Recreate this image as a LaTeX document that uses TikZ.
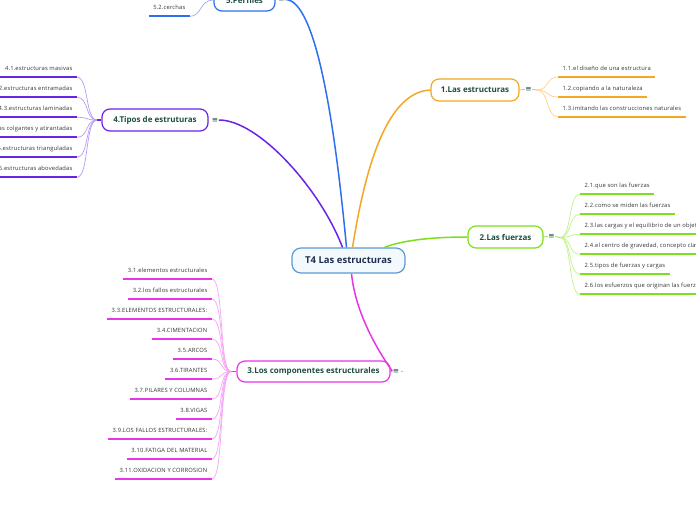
\documentclass[tikz,border=0pt]{standalone}
\usepackage{fontspec}
\setmainfont{Open Sans}
\newfontfamily\leaffont[LetterSpace=3]{Open Sans}
\newfontfamily\symf{DejaVu Sans}
\definecolor{oThick}{HTML}{F5A623}
\definecolor{oThin}{HTML}{FFD28A}
\definecolor{gThick}{HTML}{7CE01A}
\definecolor{gThin}{HTML}{C2F28C}
\definecolor{mThick}{HTML}{E835E8}
\definecolor{mThin}{HTML}{F5A6F5}
\definecolor{pThick}{HTML}{6A24E8}
\definecolor{pThin}{HTML}{B99CF5}
\definecolor{bThick}{HTML}{2F6FEF}
\definecolor{bThin}{HTML}{8FB2F7}
\definecolor{cBorder}{HTML}{5B9BD5}
\definecolor{cFill}{HTML}{F4F9FE}
\definecolor{boxText}{HTML}{1D4F3F}
\definecolor{mainText}{HTML}{1E2F4F}
\definecolor{leafText}{HTML}{333333}
\begin{document}
\begin{tikzpicture}[x=1pt,y=-1pt,
  topic/.style={draw=#1, fill=white, line width=1.2pt, rounded corners=8pt,
    text=boxText, font=\fontsize{8}{9}\selectfont\bfseries, inner sep=0pt, minimum height=22pt},
  centralbox/.style={draw=cBorder, fill=cFill, line width=1.2pt, rounded corners=9pt,
    text=mainText, font=\fontsize{9.5}{11}\selectfont\bfseries, inner sep=0pt,
    minimum width=113pt, minimum height=25pt},
  leaf/.style={font=\leaffont\fontsize{5.8}{6}\selectfont, text=leafText, inner xsep=4.5pt, inner ysep=5.5pt,
    text height=4pt, text depth=1pt},
  rleaf/.style={leaf, anchor=south west},
  lleaf/.style={leaf, anchor=south east},
  menu/.style={text=boxText, font=\symf\fontsize{7.5}{8}\selectfont, inner sep=0.5pt},
  uline/.style={draw=#1, line width=2pt},
  twig/.style={draw=#1, line width=0.7pt},
  branch/.style={draw=#1, line width=1.5pt},
]
\useasboundingbox (0,0) rectangle (696,520);
\fill[white] (0,0) rectangle (696,520);
\clip (0,0) rectangle (696,520);

% central
\node[centralbox] (c) at (348.5,260.5) {T4 Las estructuras};

% topics
\node[topic=oThick, minimum width=88pt] (b1) at (475,90) {1.Las estructuras};
\node[menu] (e1) at (528.5,89.5) {≡};
\coordinate (j1) at (537,90);

\node[topic=gThick, minimum width=75pt] (b2) at (505.5,237) {2.Las fuerzas};
\node[menu] (e2) at (551.5,236.5) {≡};
\coordinate (j2) at (560,237.5);

\node[topic=mThick, minimum width=153pt, minimum height=21pt] (b3) at (313.5,371.5) {3.Los componentes estructurales};
\node[menu] (e3) at (396,371) {≡};
\coordinate (j3) at (231,371.5);

\node[topic=pThick, minimum width=106pt] (b4) at (155,120) {4.Tipos de estruturas};
\node[menu] (e4) at (215,120) {≡};
\coordinate (j4) at (97,120);

\node[topic=bThick, minimum width=61pt] (b5) at (244.5,0) {5.Perfiles};
\node[menu] (e5) at (281.5,-0.5) {≡};

% main branches
\draw[branch=oThick] ([xshift=4pt]c.north) .. controls +(12,-75) and +(-45,2) .. (b1.west);
\draw[branch=gThick] ([xshift=36pt]c.north) .. controls +(20,-8) and +(-30,0) .. (b2.west);
\draw[branch=mThick] ([xshift=3pt]c.south) .. controls +(4,40) and +(-14,-20) .. (e3.west);
\draw[branch=pThick] (e4.east) .. controls +(40,0) and +(-22,-58) .. ([xshift=-6pt]c.north);
\draw[branch=bThick] (e5.east) .. controls +(30,0) and +(-12,-128) .. ([xshift=-2pt]c.north);

% stubs
\draw[twig=oThick] (b1.east) -- (e1.west) (e1.east) -- (j1);
\draw[twig=gThick] (b2.east) -- (e2.west) (e2.east) -- (j2);
\draw[twig=mThick] (b3.east) -- (e3.west);
\fill[mThick] (402,371.5) circle (0.6pt);
\draw[line width=1.5pt, draw=mThick] (b3.west) -- (j3);
\draw[line width=1.5pt, draw=pThick] (b4.west) -- (j4);

% branch 1 leaves
\node[rleaf] (n11) at (558,77) {1.1.el diseño de una estructura};
\node[rleaf] (n12) at (558,97) {1.2.copiando a la naturaleza};
\node[rleaf] (n13) at (558,117) {1.3.imitando las construcciones naturales};
\foreach \n in {n11,n12,n13}{
  \draw[uline=oThick] (\n.south west) -- (\n.south east);
  \draw[twig=oThin] (j1) .. controls +(12,0) and +(-12,0) .. (\n.south west);
}

% branch 2 leaves
\node[rleaf] (n21) at (580,194.3) {2.1.que son las fuerzas};
\node[rleaf] (n22) at (580,214.3) {2.2.como se miden las fuerzas};
\node[rleaf] (n23) at (580,234.3) {2.3.las cargas y el equilibrio de un objeto};
\node[rleaf] (n24) at (580,254.3) {2.4.el centro de gravedad, concepto clave};
\node[rleaf] (n25) at (580,274.3) {2.5.tipos de fuerzas y cargas};
\node[rleaf] (n26) at (580,294.3) {2.6.los esfuerzos que originan las fuerzas};
\foreach \n in {n21,n22,n23,n24,n25,n26}{
  \draw[uline=gThick] (\n.south west) -- (\n.south east);
  \draw[twig=gThin] (j2) .. controls +(12,0) and +(-12,0) .. (\n.south west);
}

% branch 3 leaves
\node[lleaf] (n31) at (212,279) {3.1.elementos estructurales};
\node[lleaf] (n32) at (212,299) {3.2.los fallos estructurales};
\node[lleaf] (n33) at (212,319) {3.3.ELEMENTOS ESTRUCTURALES:};
\node[lleaf] (n34) at (212,339) {3.4.CIMENTACION};
\node[lleaf] (n35) at (212,359) {3.5.ARCOS};
\node[lleaf] (n36) at (212,379) {3.6.TIRANTES};
\node[lleaf] (n37) at (212,399) {3.7.PILARES Y COLUMNAS};
\node[lleaf] (n38) at (212,419) {3.8.VIGAS};
\node[lleaf] (n39) at (212,439) {3.9.LOS FALLOS ESTRUCTURALES:};
\node[lleaf] (n310) at (212,459) {3.10.FATIGA DEL MATERIAL};
\node[lleaf] (n311) at (212,479) {3.11.OXIDACION Y CORROSION};
\foreach \n in {n31,n32,n33,n34,n35,n36,n37,n38,n39,n310,n311}{
  \draw[uline=mThick] (\n.south west) -- (\n.south east);
  \draw[twig=mThin] (j3) .. controls +(-12,0) and +(12,0) .. (\n.south east);
}

% branch 4 leaves
\node[lleaf] (n41) at (77,77.3) {4.1.estructuras masivas};
\node[lleaf] (n42) at (77,97.3) {4.2.estructuras entramadas};
\node[lleaf] (n43) at (77,117.3) {4.3.estructuras laminadas};
\node[lleaf] (n44) at (77,137.3) {4.4.estructuras colgantes y atirantadas};
\node[lleaf] (n45) at (77,157.3) {4.5.estructuras trianguladas};
\node[lleaf] (n46) at (77,177.3) {4.6.estructuras abovedadas};
\foreach \n in {n41,n42,n43,n44,n45,n46}{
  \draw[uline=pThick] (\n.south west) -- (\n.south east);
  \draw[twig=pThin] (j4) .. controls +(-12,0) and +(12,0) .. (\n.south east);
}

% branch 5 leaf
\node[lleaf] (n52) at (190,16.3) {5.2.cerchas};
\draw[uline=bThick] (n52.south west) -- (n52.south east);
\draw[twig=bThin] (b5.west) .. controls +(-14,0) and +(12,0) .. (n52.south east);
\end{tikzpicture}
\end{document}
